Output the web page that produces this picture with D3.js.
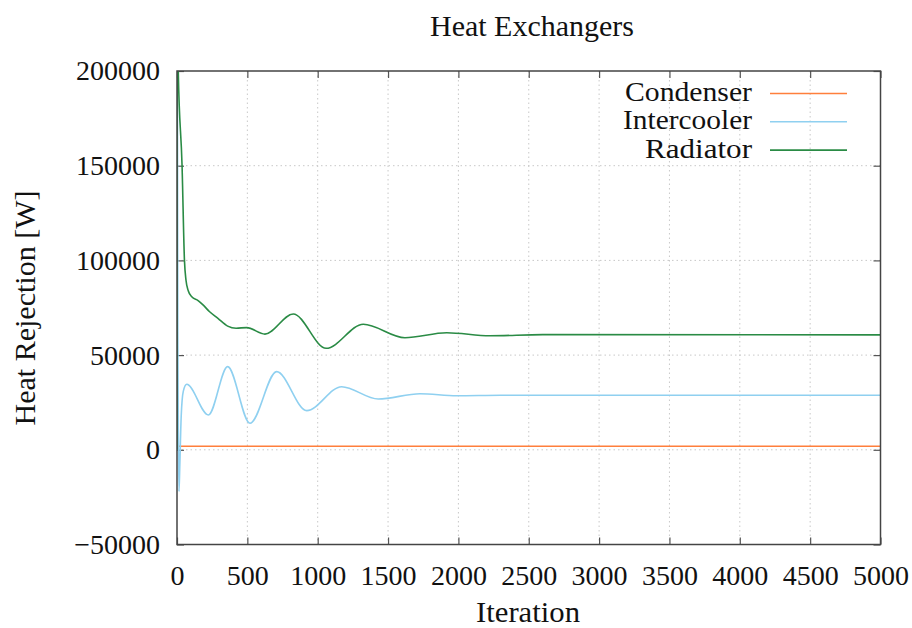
<!DOCTYPE html>
<html>
<head>
<meta charset="utf-8">
<script src="https://cdn.jsdelivr.net/npm/d3@7"></script>
<style>
  html, body { margin: 0; padding: 0; background: #fff; }
  svg { display: block; }
  text { font-family: "Liberation Serif", "DejaVu Serif", serif; fill: #111; }
</style>
</head>
<body>
<svg id="chart" width="912" height="628"></svg>
<script>
const chartTitle = "Heat Exchangers";
const xLabel = "Iteration";
const yLabel = "Heat Rejection [W]";
const seriesNames = ["Condenser", "Intercooler", "Radiator"];
const seriesColors = ["#ff7f3c", "#8fd0f0", "#2a8b45"];

const xTicks = [0, 500, 1000, 1500, 2000, 2500, 3000, 3500, 4000, 4500, 5000];
const yTicks = [-50000, 0, 50000, 100000, 150000, 200000];

const condenserIter = [0, 5000];
const condenserHeat = [1900, 1900];

const intercoolerIter = [0, 1, 6, 10, 14, 20, 30, 45, 69, 223, 360, 519, 708, 922, 1170, 1430, 1727, 1988, 2300, 5000];
const intercoolerHeat = [0, 260000, 60000, 5000, -22000, -8000, 18000, 31000, 34600, 18400, 43900, 14000, 41300, 20700, 33300, 26800, 29600, 28500, 28800, 28800];

const radiatorIter = [0, 1, 9, 36, 53, 64, 80, 105, 150, 185, 230, 291, 360, 420, 495, 625, 826, 1060, 1324, 1620, 1917, 2224, 2600, 5000];
const radiatorHeat = [0, 300000, 200000, 150000, 100000, 89500, 84000, 80800, 78800, 76500, 73000, 69400, 65300, 64200, 64500, 61100, 71700, 53600, 66300, 59200, 61800, 60200, 60800, 60700];

const svg = d3.select("#chart");
const pLeft = 177, pRight = 880.5, pTop = 71, pBottom = 544.5;

const x = d3.scaleLinear().domain([0, 5000]).range([pLeft, pRight]);
const y = d3.scaleLinear().domain([-50000, 200000]).range([pBottom, pTop]);

// grid
const grid = svg.append("g").attr("stroke", "#c8c8c8").attr("stroke-width", 1).attr("stroke-dasharray", "1.5,3");
xTicks.slice(1, -1).forEach(t => {
  grid.append("line").attr("x1", x(t)).attr("x2", x(t)).attr("y1", pTop).attr("y2", pBottom);
});
yTicks.slice(1, -1).forEach(t => {
  grid.append("line").attr("x1", pLeft).attr("x2", pRight).attr("y1", y(t)).attr("y2", y(t));
});

// axes with inward ticks (mirrored)
const fmt = v => v < 0 ? "\u2212" + Math.abs(v) : String(v);
const axStyle = g => {
  g.select(".domain").remove();
  g.selectAll(".tick line").attr("stroke", "#555").attr("stroke-width", 1.2);
  g.selectAll(".tick text").attr("font-size", 28).attr("font-family", "Liberation Serif, serif").attr("fill", "#111");
};
svg.append("g").attr("transform", `translate(0,${pBottom})`)
  .call(d3.axisBottom(x).tickValues(xTicks).tickFormat(fmt).tickSizeInner(-7).tickPadding(14))
  .call(axStyle)
  .call(g => g.selectAll(".tick text").attr("dy", "0.95em"));
svg.append("g").attr("transform", `translate(${pLeft},0)`)
  .call(d3.axisLeft(y).tickValues(yTicks).tickFormat(fmt).tickSizeInner(-7).tickPadding(17))
  .call(axStyle);
svg.append("g").attr("transform", `translate(0,${pTop})`)
  .call(d3.axisTop(x).tickValues(xTicks).tickFormat("").tickSizeInner(-7))
  .call(axStyle);
svg.append("g").attr("transform", `translate(${pRight},0)`)
  .call(d3.axisRight(y).tickValues(yTicks).tickFormat("").tickSizeInner(-7))
  .call(axStyle);

// clip
svg.append("defs").append("clipPath").attr("id", "clip")
  .append("rect").attr("x", pLeft).attr("y", pTop).attr("width", pRight - pLeft).attr("height", pBottom - pTop);

const line = d3.line().x(d => x(d[0])).y(d => y(d[1])).curve(d3.curveMonotoneX);
const seriesData = [
  d3.zip(condenserIter, condenserHeat),
  d3.zip(intercoolerIter, intercoolerHeat),
  d3.zip(radiatorIter, radiatorHeat)
];
const plot = svg.append("g").attr("clip-path", "url(#clip)");
seriesData.forEach((d, i) => {
  plot.append("path").datum(d).attr("d", line)
    .attr("fill", "none").attr("stroke", seriesColors[i]).attr("stroke-width", 1.6);
});

// border
svg.append("rect").attr("x", pLeft).attr("y", pTop).attr("width", pRight - pLeft).attr("height", pBottom - pTop)
  .attr("fill", "none").attr("stroke", "#444").attr("stroke-width", 1.5);

// legend
const legendLens = [127, 129, 107];
seriesNames.forEach((name, i) => {
  const ly = 93.5 + i * 28.3;
  svg.append("text").attr("x", 752).attr("y", ly + 7.5).attr("text-anchor", "end")
    .attr("font-size", 28).attr("textLength", legendLens[i]).attr("lengthAdjust", "spacingAndGlyphs").text(name);
  svg.append("line").attr("x1", 770).attr("x2", 847).attr("y1", ly).attr("y2", ly)
    .attr("stroke", seriesColors[i]).attr("stroke-width", 1.6);
});

// titles
svg.append("text").attr("x", 532).attr("y", 36).attr("text-anchor", "middle")
  .attr("font-size", 29).attr("textLength", 204).attr("lengthAdjust", "spacingAndGlyphs").text(chartTitle);
svg.append("text").attr("x", 528).attr("y", 622).attr("text-anchor", "middle")
  .attr("font-size", 29).attr("textLength", 104).attr("lengthAdjust", "spacingAndGlyphs").text(xLabel);
svg.append("text").attr("transform", "translate(35,308) rotate(-90)").attr("text-anchor", "middle")
  .attr("font-size", 29).attr("textLength", 235).attr("lengthAdjust", "spacingAndGlyphs").text(yLabel);
</script>
</body>
</html>
